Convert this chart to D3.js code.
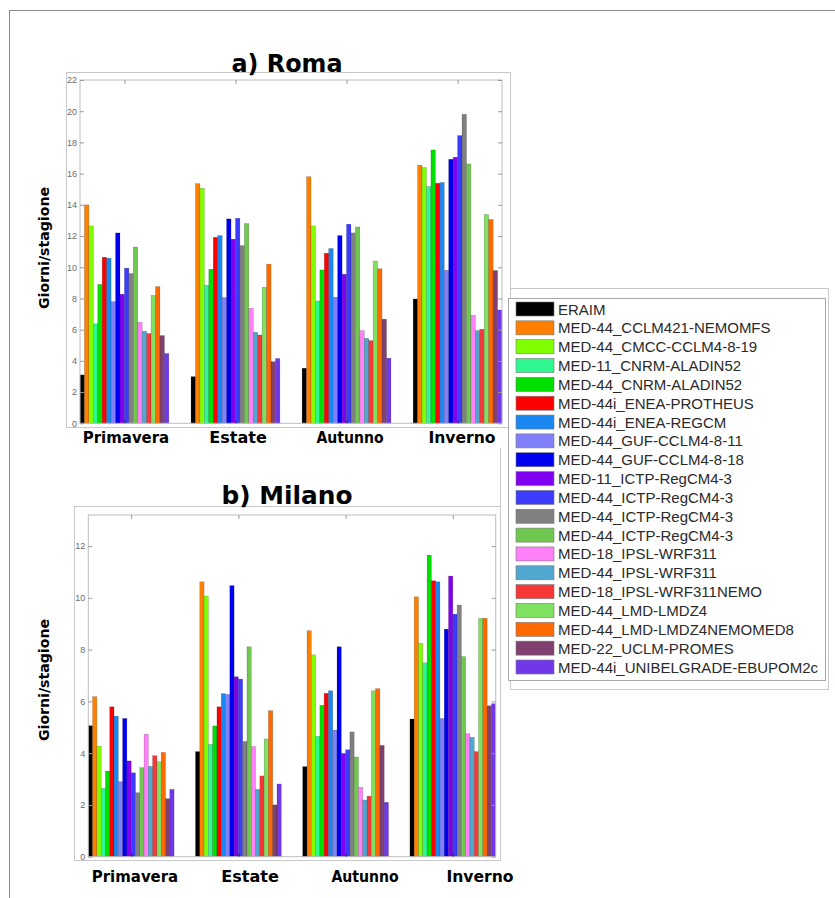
<!DOCTYPE html>
<html>
<head>
<meta charset="utf-8">
<script src="https://cdn.jsdelivr.net/npm/d3@7"></script>
<style>
  body { margin: 0; background: #fff; }
  svg { display: block; }
</style>
</head>
<body>
<script>
(function() {

    var seasons = ["Primavera", "Estate", "Autunno", "Inverno"];

    var models = ["ERAIM", "MED-44_CCLM421-NEMOMFS", "MED-44_CMCC-CCLM4-8-19", "MED-11_CNRM-ALADIN52",
        "MED-44_CNRM-ALADIN52", "MED-44i_ENEA-PROTHEUS", "MED-44i_ENEA-REGCM", "MED-44_GUF-CCLM4-8-11",
        "MED-44_GUF-CCLM4-8-18", "MED-11_ICTP-RegCM4-3", "MED-44_ICTP-RegCM4-3", "MED-44_ICTP-RegCM4-3",
        "MED-44_ICTP-RegCM4-3", "MED-18_IPSL-WRF311", "MED-44_IPSL-WRF311", "MED-18_IPSL-WRF311NEMO",
        "MED-44_LMD-LMDZ4", "MED-44_LMD-LMDZ4NEMOMED8", "MED-22_UCLM-PROMES", "MED-44i_UNIBELGRADE-EBUPOM2c"];

    var colors = ["#000000", "#ff8000", "#80ff00", "#30f890", "#00e000", "#ff0000", "#1a88f0", "#8080f8",
        "#0000f0", "#8000f0", "#3c3cff", "#808080", "#70c850", "#ff80f8", "#50a8d0", "#f83838",
        "#80e060", "#ff6a00", "#804070", "#7038e8"];

    // Roma (giorni/stagione)
    var romaPrimavera = [3.1, 14.0, 12.65, 6.37, 8.9, 10.64, 10.58, 7.8, 12.2, 8.27, 9.94, 9.6, 11.3, 6.47, 5.9, 5.75, 8.2, 8.76, 5.62, 4.47];
    var romaEstate    = [2.99, 15.36, 15.06, 8.85, 9.87, 11.92, 12.03, 8.06, 13.1, 11.8, 13.14, 11.39, 12.8, 7.37, 5.83, 5.66, 8.72, 10.2, 3.95, 4.15];
    var romaAutunno   = [3.53, 15.8, 12.65, 7.84, 9.83, 10.9, 11.2, 8.08, 12.03, 9.55, 12.76, 12.2, 12.58, 5.94, 5.45, 5.3, 10.4, 9.9, 6.67, 4.17];
    var romaInverno   = [7.97, 16.54, 16.39, 15.17, 17.52, 15.38, 15.43, 9.81, 16.92, 17.05, 18.44, 19.8, 16.62, 6.92, 5.94, 6.03, 13.38, 13.06, 9.79, 7.26];

    // Milano (giorni/stagione)
    var milanoPrimavera = [5.06, 6.18, 4.27, 2.64, 3.31, 5.79, 5.43, 2.9, 5.34, 3.7, 3.24, 2.47, 3.44, 4.73, 3.49, 3.9, 3.67, 4.03, 2.24, 2.6];
    var milanoEstate    = [4.06, 10.62, 10.07, 4.34, 5.05, 5.79, 6.3, 6.27, 10.47, 6.95, 6.86, 4.45, 8.11, 4.26, 2.6, 3.12, 4.55, 5.64, 2.0, 2.81];
    var milanoAutunno   = [3.48, 8.73, 7.8, 4.65, 5.85, 6.31, 6.41, 4.89, 8.11, 3.99, 4.13, 4.82, 3.85, 2.68, 2.19, 2.34, 6.41, 6.49, 4.3, 2.1];
    var milanoInverno   = [5.32, 10.04, 8.24, 7.49, 11.65, 10.66, 10.62, 5.34, 8.79, 10.84, 9.37, 9.72, 7.73, 4.75, 4.61, 4.06, 9.21, 9.21, 5.83, 5.91];

    var romaTicks = [0, 2, 4, 6, 8, 10, 12, 14, 16, 18, 20, 22];
    var milanoTicks = [0, 2, 4, 6, 8, 10, 12];

    var width = 835, height = 898;
    var frameColor = "#c8c8c8";

    var svg = d3.select("body")
        .append("svg")
        .attr("width", width)
        .attr("height", height);

    // outer page frame
    svg.append("rect")
        .attr("x", 9.5).attr("y", 10.5)
        .attr("width", 900).attr("height", 1000)
        .attr("fill", "none").attr("stroke", "#8a8a8a");

    // figure frames
    svg.append("rect")
        .attr("x", 66.5).attr("y", 72.5).attr("width", 444).attr("height", 355)
        .attr("fill", "none").attr("stroke", frameColor);
    svg.append("rect")
        .attr("x", 74.5).attr("y", 506.5).attr("width", 426).attr("height", 354)
        .attr("fill", "none").attr("stroke", frameColor);
    svg.append("line")
        .attr("x1", 500.5).attr("x2", 500.5).attr("y1", 448).attr("y2", 506)
        .attr("stroke", frameColor);

    var panels = [
        {
            title: "a) Roma", titleY: 72, titleWidth: 111,
            values: [romaPrimavera, romaEstate, romaAutunno, romaInverno],
            ticks: romaTicks, yMax: 22,
            left: 80, right: 502, top: 80, bottom: 423.3,
            labelY: 443, labelRange: [126, 462], labelClip: 500,
            yLabelY: 248
        },
        {
            title: "b) Milano", titleY: 504, titleWidth: 131,
            values: [milanoPrimavera, milanoEstate, milanoAutunno, milanoInverno],
            ticks: milanoTicks, yMax: 13.2,
            left: 88.3, right: 495.7, top: 515, bottom: 856.7,
            labelY: 882, labelRange: [135, 480], labelClip: 835,
            yLabelY: 680
        }
    ];

    panels.forEach(function(p, pi) {
        drawPanel(p, pi);
    });

    drawLegend();

    function drawPanel(p, pi) {

        var xScale = d3.scaleLinear()
            .domain([0.6, 4.4])
            .range([p.left, p.right]);

        var yScale = d3.scaleLinear()
            .domain([0, p.yMax])
            .range([p.bottom, p.top]);

        var g = svg.append("g").attr("class", "panel" + pi);

        // title
        g.append("text")
            .attr("x", 287)
            .attr("y", p.titleY)
            .attr("text-anchor", "middle")
            .attr("textLength", p.titleWidth)
            .attr("lengthAdjust", "spacingAndGlyphs")
            .style("font-family", "'DejaVu Sans', sans-serif")
            .style("font-weight", "bold")
            .style("font-size", "25px")
            .text(p.title);

        // bars
        var groupWidth = 0.8,
            barW = groupWidth / models.length;

        var rows = [];
        p.values.forEach(function(vals, si) {
            vals.forEach(function(v, mi) {
                rows.push({ season: si + 1, model: mi, value: v });
            });
        });

        g.selectAll(".bars")
            .data(rows)
            .enter()
            .append("rect")
            .attr("class", "bars")
            .attr("x", function(d) { return xScale(d.season - groupWidth / 2 + d.model * barW); })
            .attr("width", function(d) { return xScale(barW) - xScale(0); })
            .attr("y", function(d) { return yScale(d.value); })
            .attr("height", function(d) { return yScale(0) - yScale(d.value); })
            .style("fill", function(d) { return colors[d.model]; })
            .style("stroke", "rgba(0,0,0,0.3)")
            .style("stroke-width", 0.5);

        // axes box
        g.append("rect")
            .attr("x", p.left).attr("y", p.top)
            .attr("width", p.right - p.left).attr("height", p.bottom - p.top)
            .attr("fill", "none").attr("stroke", "#bdbdbd");

        var yLeft = d3.axisLeft(yScale)
            .tickValues(p.ticks)
            .tickSizeInner(-4).tickSizeOuter(0)
            .tickPadding(3);
        var yRight = d3.axisRight(yScale)
            .tickValues(p.ticks)
            .tickSizeInner(-4).tickSizeOuter(0)
            .tickFormat("");
        var xTop = d3.axisTop(xScale)
            .tickValues([1, 2, 3, 4])
            .tickSizeInner(-4).tickSizeOuter(0)
            .tickFormat("");
        var xBottom = d3.axisBottom(xScale)
            .tickValues([1, 2, 3, 4])
            .tickSizeInner(-3).tickSizeOuter(0)
            .tickFormat("");

        var ay = g.append("g")
            .attr("transform", "translate(" + p.left + ",0)")
            .call(yLeft);
        ay.selectAll("text")
            .style("font-family", "'Liberation Sans', Arial, sans-serif")
            .style("font-size", "9px")
            .style("fill", "#6a6a6a");

        g.append("g")
            .attr("transform", "translate(" + p.right + ",0)")
            .call(yRight);
        g.append("g")
            .attr("transform", "translate(0," + p.top + ")")
            .call(xTop);
        var ab = g.append("g")
            .attr("transform", "translate(0," + p.bottom + ")")
            .call(xBottom);
        ab.selectAll("line").style("stroke", "#202060");

        g.selectAll(".domain").remove();
        g.selectAll(".tick line").filter(function() { return this.parentNode.parentNode !== ab.node(); })
            .style("stroke", "#9a9a9a");

        // y label
        g.append("text")
            .attr("transform", "translate(49," + p.yLabelY + ") rotate(-90)")
            .attr("text-anchor", "middle")
            .attr("textLength", 122)
            .attr("lengthAdjust", "spacingAndGlyphs")
            .style("font-family", "'DejaVu Sans', sans-serif")
            .style("font-weight", "bold")
            .style("font-size", "14px")
            .text("Giorni/stagione");

        // season labels (separate strip under the axes)
        var labelScale = d3.scalePoint()
            .domain(seasons)
            .range(p.labelRange);

        var clipId = "clip" + pi;
        svg.append("clipPath").attr("id", clipId)
            .append("rect")
            .attr("x", 0).attr("y", 0)
            .attr("width", p.labelClip).attr("height", height);

        g.append("g")
            .attr("clip-path", "url(#" + clipId + ")")
            .selectAll(".season")
            .data(seasons)
            .enter()
            .append("text")
            .attr("class", "season")
            .attr("x", function(d) { return labelScale(d); })
            .attr("y", p.labelY)
            .attr("text-anchor", "middle")
            .attr("textLength", function(d) { return d.length * 9.6; })
            .attr("lengthAdjust", "spacingAndGlyphs")
            .style("font-family", "'DejaVu Sans', sans-serif")
            .style("font-weight", "bold")
            .style("font-size", "16px")
            .text(function(d) { return d; });
    }

    function drawLegend() {

        // legend figure frame
        svg.append("rect")
            .attr("x", 510.5).attr("y", 288.5).attr("width", 318).attr("height", 401)
            .attr("fill", "#fff").attr("stroke", frameColor);

        svg.append("rect")
            .attr("x", 508.5).attr("y", 298.5).attr("width", 317).attr("height", 382)
            .attr("fill", "#fff").attr("stroke", "#a8a8a8");

        var yLeg = d3.scalePoint()
            .domain(d3.range(models.length))
            .range([309, 667]);

        var items = svg.selectAll(".legendItem")
            .data(models)
            .enter()
            .append("g")
            .attr("class", "legendItem")
            .attr("transform", function(d, i) { return "translate(516," + yLeg(i) + ")"; });

        items.append("rect")
            .attr("x", 0).attr("y", -7)
            .attr("width", 38).attr("height", 14)
            .style("fill", function(d, i) { return colors[i]; })
            .style("stroke", "#777")
            .style("stroke-width", 0.6);

        items.append("text")
            .attr("x", 42)
            .attr("y", 5.5)
            .style("font-family", "'Liberation Sans', Arial, sans-serif")
            .style("font-size", "15px")
            .style("fill", "#2a2a2a")
            .text(function(d) { return d; });
    }

})();
</script>
</body>
</html>
